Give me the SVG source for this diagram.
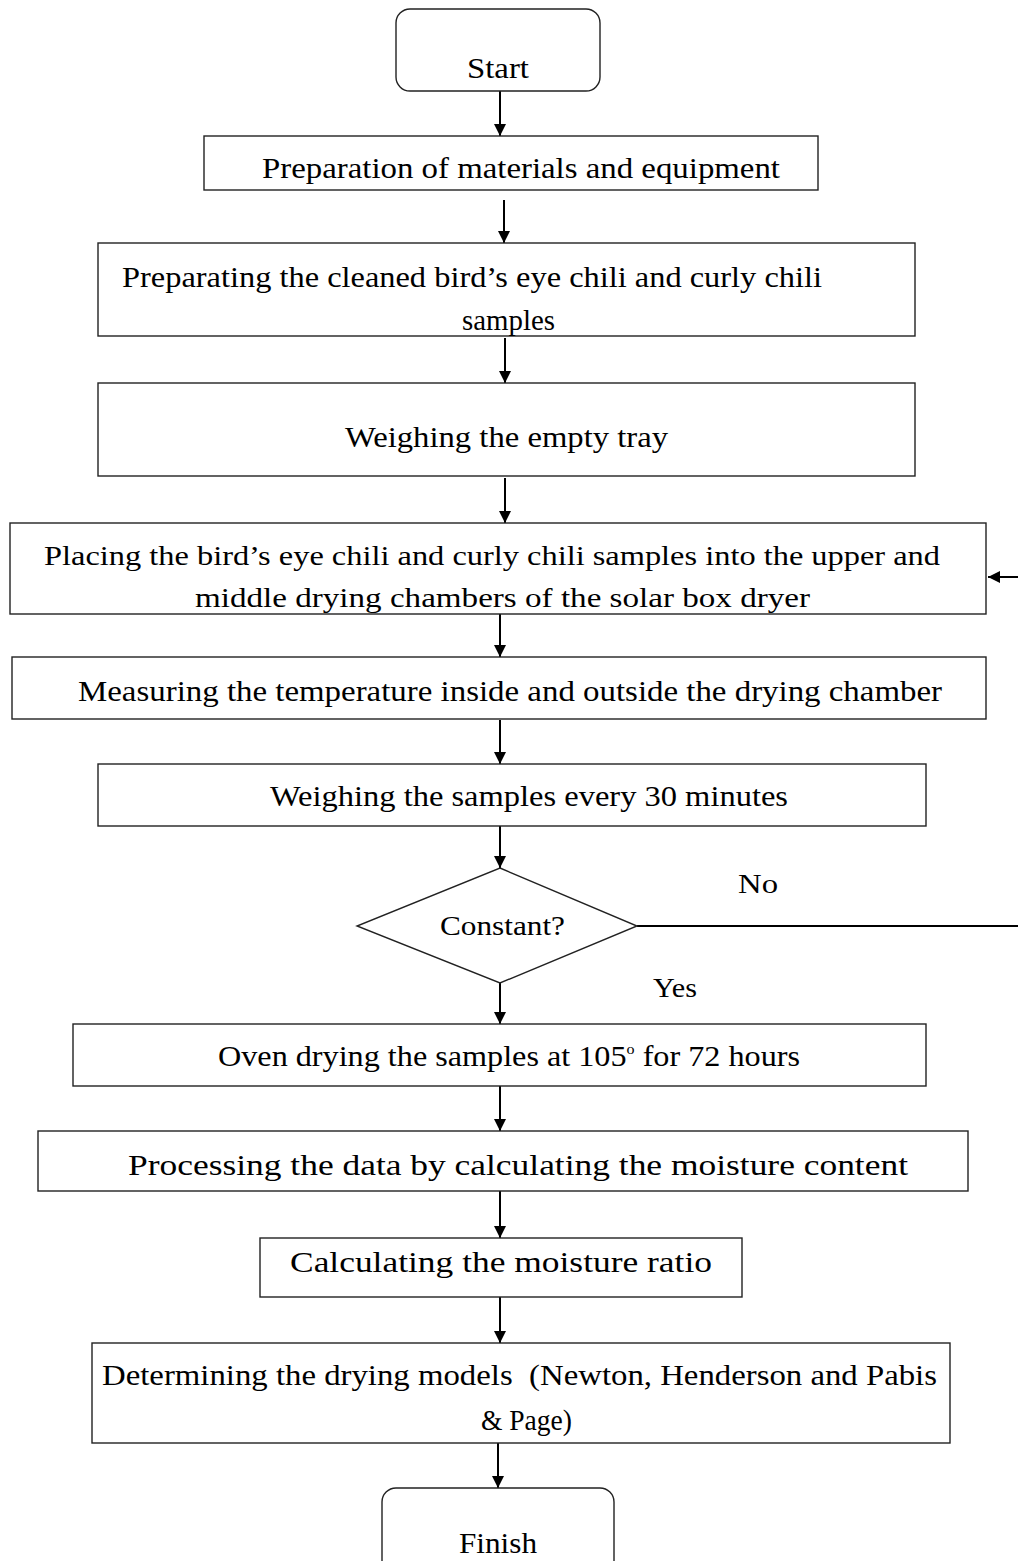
<svg xmlns="http://www.w3.org/2000/svg" width="1018" height="1561" viewBox="0 0 1018 1561">
<style>
.box{fill:#fff;stroke:#222;stroke-width:1.4}
.t{font-family:"Liberation Serif","DejaVu Serif",serif;font-size:30px;fill:#000}
.c{font-family:"Liberation Serif","DejaVu Serif",serif;font-size:28px;fill:#000}
.ln{fill:none;stroke:#000;stroke-width:2}
</style>
<defs>
<marker id="ah" viewBox="0 0 12 12" refX="12" refY="6" markerWidth="12" markerHeight="12" markerUnits="userSpaceOnUse" orient="auto">
<path d="M0,0 L12,6 L0,12 z" fill="#000"/>
</marker>
</defs>
<rect width="1018" height="1561" fill="#fff"/>
<g id="connectors">
<line class="ln" x1="500" y1="91" x2="500" y2="136" marker-end="url(#ah)"/>
<line class="ln" x1="504" y1="200" x2="504" y2="243" marker-end="url(#ah)"/>
<line class="ln" x1="505" y1="338" x2="505" y2="383" marker-end="url(#ah)"/>
<line class="ln" x1="505" y1="478" x2="505" y2="523" marker-end="url(#ah)"/>
<line class="ln" x1="500" y1="614" x2="500" y2="657" marker-end="url(#ah)"/>
<line class="ln" x1="500" y1="720" x2="500" y2="764" marker-end="url(#ah)"/>
<line class="ln" x1="500" y1="826" x2="500" y2="868" marker-end="url(#ah)"/>
<line class="ln" x1="500" y1="983" x2="500" y2="1024" marker-end="url(#ah)"/>
<line class="ln" x1="500" y1="1086" x2="500" y2="1131" marker-end="url(#ah)"/>
<line class="ln" x1="500" y1="1191" x2="500" y2="1238" marker-end="url(#ah)"/>
<line class="ln" x1="500" y1="1297" x2="500" y2="1343" marker-end="url(#ah)"/>
<line class="ln" x1="498" y1="1443" x2="498" y2="1488" marker-end="url(#ah)"/>
<path class="ln" d="M637,926 H1030 V577 H988" marker-end="url(#ah)"/>
</g>
<g id="start">
<rect class="box" x="396" y="9" width="204" height="82" rx="14"/>
<text class="t" x="498" y="78" text-anchor="middle" textLength="62" lengthAdjust="spacingAndGlyphs">Start</text>
</g>
<g id="prep">
<rect class="box" x="204" y="136" width="614" height="54"/>
<text class="t" x="262" y="178" textLength="518" lengthAdjust="spacingAndGlyphs">Preparation of materials and equipment</text>
</g>
<g id="samples">
<rect class="box" x="98" y="243" width="817" height="93"/>
<text class="t" x="122" y="287" textLength="700" lengthAdjust="spacingAndGlyphs">Preparating the cleaned bird’s eye chili and curly chili</text>
<text class="t" x="462" y="330" textLength="93" lengthAdjust="spacingAndGlyphs">samples</text>
</g>
<g id="tray">
<rect class="box" x="98" y="383" width="817" height="93"/>
<text class="t" x="345" y="447" textLength="323" lengthAdjust="spacingAndGlyphs">Weighing the empty tray</text>
</g>
<g id="placing">
<rect class="box" x="10" y="523" width="976" height="91"/>
<text class="c" x="44" y="565" textLength="896" lengthAdjust="spacingAndGlyphs">Placing the bird’s eye chili and curly chili samples into the upper and</text>
<text class="c" x="195" y="607" textLength="615" lengthAdjust="spacingAndGlyphs">middle drying chambers of the solar box dryer</text>
</g>
<g id="measuring">
<rect class="box" x="12" y="657" width="974" height="62"/>
<text class="t" x="78" y="701" textLength="864" lengthAdjust="spacingAndGlyphs">Measuring the temperature inside and outside the drying chamber</text>
</g>
<g id="weighing">
<rect class="box" x="98" y="764" width="828" height="62"/>
<text class="t" x="270" y="806" textLength="518" lengthAdjust="spacingAndGlyphs">Weighing the samples every 30 minutes</text>
</g>
<g id="decision">
<polygon class="box" points="500,868 637,926 500,983 357,926"/>
<text class="c" x="440" y="935" textLength="125" lengthAdjust="spacingAndGlyphs">Constant?</text>
</g>
<g id="labels">
<text class="c" x="738" y="893" textLength="40" lengthAdjust="spacingAndGlyphs">No</text>
<text class="c" x="653" y="997" textLength="44" lengthAdjust="spacingAndGlyphs">Yes</text>
</g>
<g id="oven">
<rect class="box" x="73" y="1024" width="853" height="62"/>
<text class="t" x="218" y="1066" textLength="582" lengthAdjust="spacingAndGlyphs">Oven drying the samples at 105<tspan font-size="15" dy="-12">o</tspan><tspan dy="12"> for 72 hours</tspan></text>
</g>
<g id="processing">
<rect class="box" x="38" y="1131" width="930" height="60"/>
<text class="t" x="128" y="1175" font-size="31" textLength="780" lengthAdjust="spacingAndGlyphs">Processing the data by calculating the moisture content</text>
</g>
<g id="ratio">
<rect class="box" x="260" y="1238" width="482" height="59"/>
<text class="t" x="290" y="1272" font-size="33" textLength="422" lengthAdjust="spacingAndGlyphs">Calculating the moisture ratio</text>
</g>
<g id="models">
<rect class="box" x="92" y="1343" width="858" height="100"/>
<text class="t" x="102" y="1385" xml:space="preserve" textLength="835" lengthAdjust="spacingAndGlyphs">Determining the drying models  (Newton, Henderson and Pabis</text>
<text class="t" x="481" y="1430" textLength="91" lengthAdjust="spacingAndGlyphs">&amp; Page)</text>
</g>
<g id="finish">
<rect class="box" x="382" y="1488" width="232" height="100" rx="14"/>
<text class="t" x="459" y="1553" textLength="78" lengthAdjust="spacingAndGlyphs">Finish</text>
</g>
</svg>
